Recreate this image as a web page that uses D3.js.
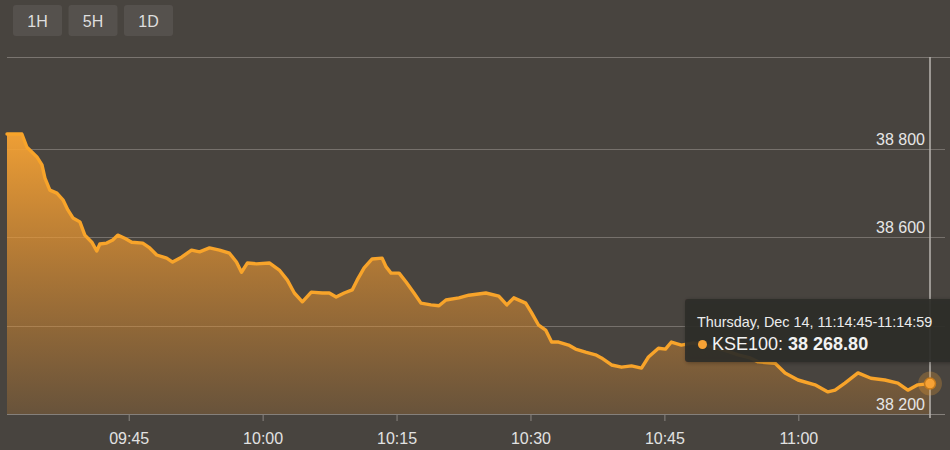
<!DOCTYPE html>
<html>
<head>
<meta charset="utf-8">
<script src="https://cdn.jsdelivr.net/npm/d3@7"></script>
<style>
  html, body { margin: 0; padding: 0; background: #48443f; }
  svg { display: block; font-family: "Liberation Sans", Arial, Helvetica, sans-serif; }
</style>
</head>
<body>
<svg id="chart" width="950" height="450"></svg>
<script>
// ---- data ----
const seriesName = "KSE100";
const times = ["09:31:22","09:33:02","09:33:36","09:34:43","09:35:17","09:35:37","09:36:10","09:36:57","09:37:38","09:38:11",
  "09:38:45","09:39:32","09:40:05","09:40:52","09:41:25","09:41:46","09:42:32","09:43:13","09:43:46","09:44:33",
  "09:45:20","09:46:34","09:47:21","09:48:08","09:49:15","09:49:55","09:50:55","09:52:02","09:52:56","09:54:03",
  "09:55:10","09:56:17","09:57:04","09:57:38","09:58:18","09:59:18","10:00:45","10:01:52","10:02:46","10:03:33",
  "10:04:27","10:05:27","10:06:41","10:07:28","10:08:14","10:09:08","10:10:02","10:10:35","10:11:22","10:12:16",
  "10:13:23","10:13:50","10:14:23","10:15:17","10:16:04","10:16:57","10:17:44","10:18:51","10:19:45","10:20:32",
  "10:21:59","10:23:06","10:25:00","10:26:27","10:27:21","10:28:08","10:29:28","10:30:08","10:30:55","10:31:42",
  "10:32:22","10:33:09","10:34:16","10:35:03","10:36:10","10:37:17","10:37:57","10:39:05","10:40:12","10:41:19",
  "10:42:26","10:43:13","10:44:20","10:45:07","10:45:47","10:46:54","10:48:14","10:49:55","10:51:36","10:53:16",
  "10:54:37","10:55:30","10:57:24","10:58:31","10:59:58","11:01:52","11:03:19","11:04:07","11:05:13","11:06:41",
  "11:08:08","11:09:41","11:11:09","11:12:16","11:13:23","11:14:45"];
const values = [38834,38834,38804,38782,38764,38734,38707,38700,38685,38662,
  38644,38635,38605,38589,38569,38585,38587,38594,38605,38598,
  38589,38587,38576,38560,38553,38544,38555,38571,38567,38576,
  38571,38564,38544,38521,38542,38540,38542,38526,38503,38474,
  38454,38476,38474,38474,38465,38474,38481,38503,38531,38551,
  38553,38533,38519,38519,38499,38474,38451,38447,38445,38458,
  38463,38469,38474,38467,38447,38463,38451,38429,38401,38390,
  38363,38363,38356,38347,38340,38334,38327,38311,38306,38309,
  38304,38329,38349,38347,38363,38356,38361,38354,38345,38334,
  38327,38318,38315,38293,38277,38266,38250,38254,38270,38293,
  38281,38277,38270,38254,38266,38268.8];
const xTickLabels = ["09:45","10:00","10:15","10:30","10:45","11:00"];
const yGridValues = [38400, 38600, 38800];
const yLabelValues = [38200, 38600, 38800]; // 38 400 label is hidden by the tooltip in the reference
const rangeButtons = ["1H","5H","1D"];
const tooltipTitle = "Thursday, Dec 14, 11:14:45-11:14:59";
const tooltipValue = "38 268.80";

// ---- setup ----
const parse = d3.timeParse("%H:%M:%S");
const parseHM = d3.timeParse("%H:%M");
const data = times.map((t, i) => ({ t: parse(t), v: values[i] }));

const svg = d3.select("#chart");
const W = 950, H = 450;
const plot = { left: 7, right: 945, top: 57, bottom: 414 };
const lastX = 930;

const x = d3.scaleTime()
  .domain([data[0].t, data[data.length - 1].t])
  .range([plot.left, lastX]);
const y = d3.scaleLinear()
  .domain([38200, 38800])
  .range([414, 149]);

svg.append("rect").attr("width", W).attr("height", H).attr("fill", "#48443f");

// gradient
const defs = svg.append("defs");
const grad = defs.append("linearGradient").attr("id", "areaGrad")
  .attr("gradientUnits", "userSpaceOnUse")
  .attr("x1", 0).attr("x2", 0).attr("y1", 120).attr("y2", plot.bottom);
grad.append("stop").attr("offset", 0).attr("stop-color", "#f8a535").attr("stop-opacity", 0.98);
grad.append("stop").attr("offset", 0.45).attr("stop-color", "#f29a30").attr("stop-opacity", 0.64);
grad.append("stop").attr("offset", 1).attr("stop-color", "#e8902c").attr("stop-opacity", 0.2);

const shadow = defs.append("filter").attr("id", "tipShadow")
  .attr("x", -0.1).attr("y", -0.3).attr("width", 1.2).attr("height", 1.6);
shadow.append("feDropShadow").attr("dx", 1).attr("dy", 1).attr("stdDeviation", 2)
  .attr("flood-color", "#000").attr("flood-opacity", 0.35);

// top border line
svg.append("line")
  .attr("x1", plot.left).attr("x2", W).attr("y1", plot.top + 0.5).attr("y2", plot.top + 0.5)
  .attr("stroke", "#7a7570").attr("stroke-width", 1);

// gridlines
svg.append("g").selectAll("line").data(yGridValues).join("line")
  .attr("x1", plot.left).attr("x2", plot.right)
  .attr("y1", d => Math.round(y(d)) + 0.5).attr("y2", d => Math.round(y(d)) + 0.5)
  .attr("stroke", "#76716c").attr("stroke-width", 1);

// area + line
const area = d3.area().x(d => x(d.t)).y0(plot.bottom).y1(d => y(d.v)).curve(d3.curveLinear);
const line = d3.line().x(d => x(d.t)).y(d => y(d.v)).curve(d3.curveLinear);

svg.append("path").datum(data).attr("d", area).attr("fill", "url(#areaGrad)");
svg.append("path").datum(data).attr("d", line)
  .attr("fill", "none").attr("stroke", "#f8a42a").attr("stroke-width", 3.4)
  .attr("stroke-linejoin", "round").attr("stroke-linecap", "round");

// x axis
const xTicks = xTickLabels.map(s => {
  const d = parseHM(s);
  d.setFullYear(data[0].t.getFullYear(), data[0].t.getMonth(), data[0].t.getDate());
  return d;
});
const xAxis = d3.axisBottom(x)
  .tickValues(xTicks)
  .tickFormat((d, i) => xTickLabels[i])
  .tickSize(7)
  .tickSizeOuter(0);
const gx = svg.append("g").attr("transform", `translate(0,${plot.bottom})`).call(xAxis);
gx.select(".domain").remove();
gx.selectAll(".tick line").attr("stroke", "#8a8580").attr("stroke-width", 1);
gx.selectAll(".tick text")
  .attr("fill", "#e2e2e2").attr("font-size", 16).attr("font-family", "Liberation Sans, Arial, sans-serif")
  .attr("y", 19).attr("dy", "0.71em");
svg.append("line")
  .attr("x1", plot.left).attr("x2", plot.right).attr("y1", plot.bottom + 0.5).attr("y2", plot.bottom + 0.5)
  .attr("stroke", "#85807b").attr("stroke-width", 1);

// y labels
const fmt = v => d3.format(",")(v).replace(/,/g, " ");
svg.append("g").selectAll("text").data(yLabelValues).join("text")
  .attr("x", 925).attr("y", d => y(d) - 4)
  .attr("text-anchor", "end")
  .attr("fill", "#e6e6e6").attr("font-size", 16)
  .text(d => fmt(d));

// crosshair
const last = data[data.length - 1];
svg.append("line")
  .attr("x1", x(last.t)).attr("x2", x(last.t)).attr("y1", plot.top).attr("y2", plot.bottom + 4)
  .attr("stroke", "#b8b4b0").attr("stroke-width", 1.5);

// marker
svg.append("circle").attr("cx", x(last.t)).attr("cy", y(last.v)).attr("r", 12)
  .attr("fill", "#f7a235").attr("fill-opacity", 0.25);
svg.append("circle").attr("cx", x(last.t)).attr("cy", y(last.v)).attr("r", 5.5)
  .attr("fill", "#f7a235").attr("stroke", "#c47a1c").attr("stroke-width", 1.5);

// range buttons
const bg = svg.append("g").selectAll("g").data(rangeButtons).join("g")
  .attr("transform", (d, i) => `translate(${13 + i * 55.5},5)`);
bg.append("rect").attr("width", 49).attr("height", 31).attr("rx", 3)
  .attr("fill", "#55514d");
bg.append("text").attr("x", 24.5).attr("y", 21.5).attr("text-anchor", "middle")
  .attr("fill", "#dedede").attr("font-size", 16).text(d => d);

// tooltip
const tip = svg.append("g").attr("transform", "translate(685,299)");
tip.append("rect").attr("width", 270).attr("height", 63).attr("rx", 3)
  .attr("fill", "#2e2b29").attr("fill-opacity", 0.9).attr("filter", "url(#tipShadow)");
tip.append("text").attr("x", 12).attr("y", 28).attr("fill", "#ececec").attr("font-size", 14.4)
  .text(tooltipTitle);
tip.append("circle").attr("cx", 17.5).attr("cy", 45.5).attr("r", 4.5).attr("fill", "#f7a235");
const t2 = tip.append("text").attr("x", 27).attr("y", 51).attr("fill", "#f2f2f2").attr("font-size", 18);
t2.append("tspan").text(seriesName + ": ");
t2.append("tspan").attr("font-weight", "bold").text(tooltipValue);
</script>
</body>
</html>
